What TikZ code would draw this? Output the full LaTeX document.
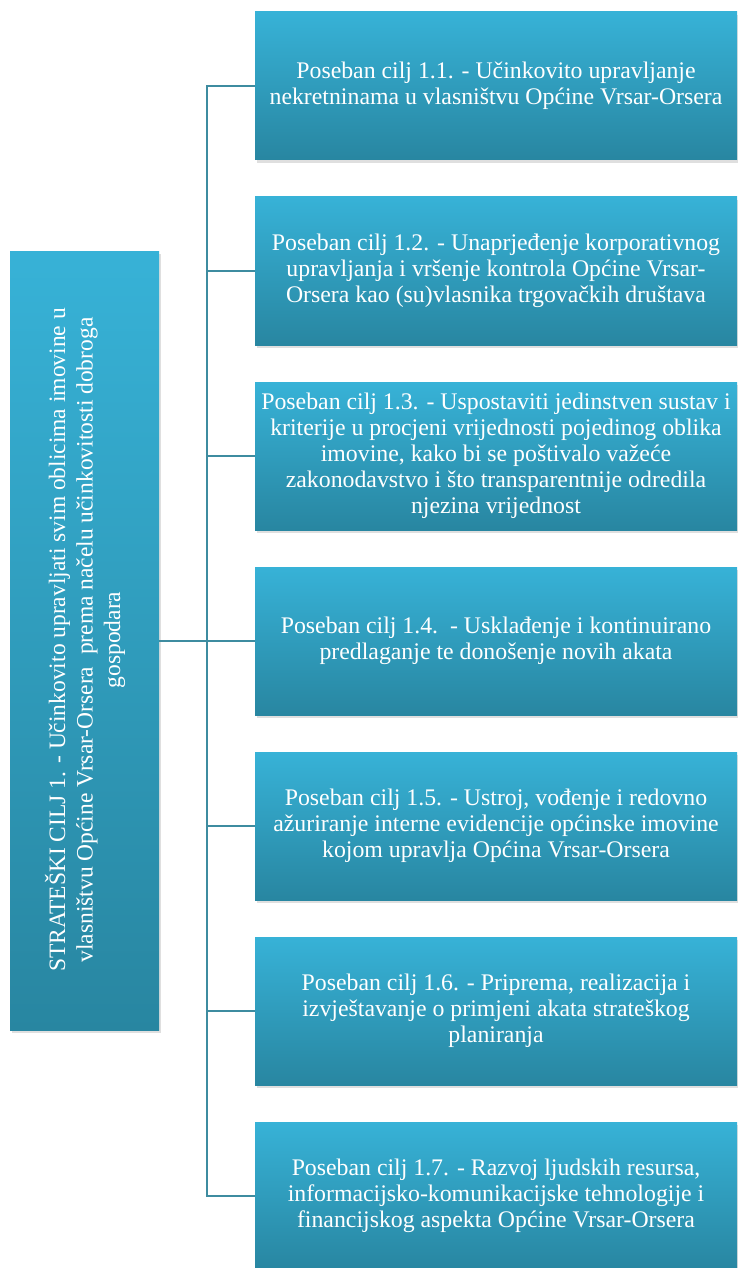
\documentclass[tikz,border=0pt]{standalone}
\usepackage{fontspec}
\setmainfont{Liberation Serif}
\usetikzlibrary{shadows}
\definecolor{boxtop}{RGB}{55,178,215}
\definecolor{boxbot}{RGB}{40,134,161}
\definecolor{linec}{RGB}{62,140,160}
\begin{document}
\begin{tikzpicture}[x=1pt,y=-1pt,
  goalbox/.style={rectangle, inner sep=0pt, minimum width=482pt, minimum height=148pt,
    top color=boxtop, bottom color=boxbot, draw=none,
    drop shadow={opacity=0.25, shadow xshift=2pt, shadow yshift=-3pt},
    text=white, align=center, font=\fontsize{23.8}{26}\selectfont},
  mainbox/.style={rectangle, inner sep=0pt, minimum width=149pt, minimum height=779pt,
    top color=boxtop, bottom color=boxbot, draw=none,
    drop shadow={opacity=0.25, shadow xshift=2pt, shadow yshift=-3pt}},
  maintext/.style={rotate=90, text=white, align=center, font=\fontsize{23.5}{27.5}\selectfont},
  conn/.style={draw=linec, line width=2pt}]
\useasboundingbox (0,0) rectangle (737,1268);
\fill[white] (0,0) rectangle (737,1268);

\node[mainbox] (L) at (84.5,640.5) {};
\node[maintext] (Lt) at (85,640) {STRATEŠKI CILJ 1. - Učinkovito upravljati svim oblicima imovine u\\vlasništvu Općine Vrsar-Orsera\ \ prema načelu učinkovitosti dobroga\\gospodara};

\node[goalbox] (b1) at (496,86) {Poseban cilj 1.1. - Učinkovito upravljanje\\nekretninama u vlasništvu Općine Vrsar-Orsera};
\node[goalbox] (b2) at (496,271) {Poseban cilj 1.2. - Unaprjeđenje korporativnog\\upravljanja i vršenje kontrola Općine Vrsar-\\Orsera kao (su)vlasnika trgovačkih društava};
\node[goalbox] (b3) at (496,456) {Poseban cilj 1.3. - Uspostaviti jedinstven sustav i\\kriterije u procjeni vrijednosti pojedinog oblika\\imovine, kako bi se poštivalo važeće\\zakonodavstvo i što transparentnije odredila\\njezina vrijednost};
\node[goalbox] (b4) at (496,641) {Poseban cilj 1.4.\ \ - Usklađenje i kontinuirano\\predlaganje te donošenje novih akata};
\node[goalbox] (b5) at (496,826) {Poseban cilj 1.5. - Ustroj, vođenje i redovno\\ažuriranje interne evidencije općinske imovine\\kojom upravlja Općina Vrsar-Orsera};
\node[goalbox] (b6) at (496,1011) {Poseban cilj 1.6. - Priprema, realizacija i\\izvještavanje o primjeni akata strateškog\\planiranja};
\node[goalbox] (b7) at (496,1196) {Poseban cilj 1.7. - Razvoj ljudskih resursa,\\informacijsko-komunikacijske tehnologije i\\financijskog aspekta Općine Vrsar-Orsera};

\coordinate (bus) at (207,641);
\draw[conn] (b1.west) -- (b1.west -| bus) -- (b7.west -| bus) -- (b7.west);
\foreach \b in {b2,b3,b4,b5,b6} {\draw[conn] (\b.west) -- (\b.west -| bus);}
\draw[conn] (L.east) -- (L.east -| bus);
\end{tikzpicture}
\end{document}
